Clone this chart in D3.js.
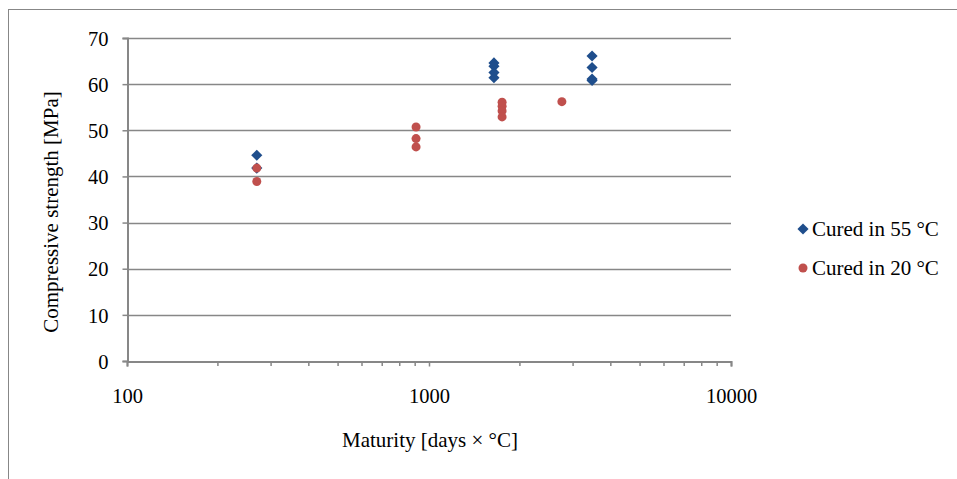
<!DOCTYPE html>
<html>
<head>
<meta charset="utf-8">
<script src="https://cdn.jsdelivr.net/npm/d3@7"></script>
<style>
  body { margin: 0; background: #fff; }
  text { font-family: "Liberation Serif", "Times New Roman", serif; fill: #000; }
</style>
</head>
<body>
<svg id="chart" width="957" height="479"></svg>
<script>
// series
var cured55 = [
    { m: 269, s: 44.6 }, { m: 269, s: 41.8 },
    { m: 1641, s: 64.6 }, { m: 1641, s: 63.9 }, { m: 1641, s: 62.5 }, { m: 1641, s: 61.4 },
    { m: 3467, s: 66.1 }, { m: 3467, s: 63.6 }, { m: 3467, s: 61.1 }, { m: 3467, s: 60.8 }
];
var cured20 = [
    { m: 269, s: 41.8 }, { m: 269, s: 38.9 },
    { m: 906, s: 50.7 }, { m: 906, s: 48.2 }, { m: 906, s: 46.4 },
    { m: 1746, s: 56.1 }, { m: 1746, s: 55.2 }, { m: 1746, s: 54.2 }, { m: 1746, s: 52.9 },
    { m: 2754, s: 56.2 }
];
var yTicks = [0, 10, 20, 30, 40, 50, 60, 70];
var xMajor = [100, 1000, 10000];
var xMinor = [200, 300, 400, 500, 600, 700, 800, 900, 2000, 3000, 4000, 5000, 6000, 7000, 8000, 9000];
var legendItems = ["Cured in 55 °C", "Cured in 20 °C"];

var svg = d3.select("#chart");
var grey = "#878787";
var blue = "#1f4e8c";
var red = "#c0504d";

// outer frame
svg.append("rect")
    .attr("x", 8.5).attr("y", 9.5)
    .attr("width", 960).attr("height", 480)
    .attr("fill", "none").attr("stroke", grey).attr("stroke-width", 1);

var x = d3.scaleLog().domain([100, 10000]).range([127, 731]);
var y = d3.scaleLinear().domain([0, 70]).range([361, 38]);

// gridlines
svg.append("g").selectAll("line")
    .data(yTicks.slice(1))
    .join("line")
    .attr("x1", 127).attr("x2", 731)
    .attr("y1", d => Math.round(y(d)) + 0.5)
    .attr("y2", d => Math.round(y(d)) + 0.5)
    .attr("stroke", grey).attr("stroke-width", 1.5);

// y axis
var yAxis = svg.append("g")
    .attr("transform", "translate(127.5,0)")
    .call(d3.axisLeft(y).tickValues(yTicks).tickSize(5).tickPadding(14).tickFormat(d3.format("d")));
yAxis.select(".domain").attr("stroke", grey).attr("stroke-width", 2);
yAxis.selectAll(".tick line").attr("stroke", grey).attr("stroke-width", 1.5);
yAxis.selectAll(".tick text").style("font-size", "20.5px").attr("dy", "0.35em");

// x axis
var xAxis = svg.append("g")
    .attr("transform", "translate(0,361.5)")
    .call(d3.axisBottom(x).tickValues(xMajor).tickSize(5).tickPadding(22).tickFormat(d3.format("d")));
xAxis.select(".domain").attr("stroke", grey).attr("stroke-width", 2);
xAxis.selectAll(".tick line").attr("stroke", grey).attr("stroke-width", 1.5);
xAxis.selectAll(".tick text").style("font-size", "20.5px");

svg.append("g").selectAll("line")
    .data(xMinor)
    .join("line")
    .attr("x1", d => x(d)).attr("x2", d => x(d))
    .attr("y1", 361).attr("y2", 366)
    .attr("stroke", grey).attr("stroke-width", 1.5);

// markers: a square turned 45 degrees gives the even diamond
var diamond = d3.symbol().type(d3.symbolSquare).size(62);
svg.append("g").selectAll("path")
    .data(cured55)
    .join("path")
    .attr("d", diamond)
    .attr("transform", d => "translate(" + x(d.m) + "," + y(d.s) + ") rotate(45)")
    .attr("fill", blue);

svg.append("g").selectAll("circle")
    .data(cured20)
    .join("circle")
    .attr("cx", d => x(d.m))
    .attr("cy", d => y(d.s))
    .attr("r", 4.5)
    .attr("fill", red);

// axis titles
svg.append("text")
    .attr("transform", "translate(51,212) rotate(-90)")
    .attr("dy", "0.35em")
    .attr("text-anchor", "middle")
    .style("font-size", "21px")
    .text("Compressive strength [MPa]");

svg.append("text")
    .attr("x", 430).attr("y", 447)
    .attr("text-anchor", "middle")
    .style("font-size", "21px")
    .text("Maturity [days × °C]");

// legend
var legend = svg.append("g").attr("transform", "translate(803,229)");
legend.append("path")
    .attr("d", diamond)
    .attr("transform", "rotate(45)")
    .attr("fill", blue);
legend.append("circle")
    .attr("cx", 0).attr("cy", 39).attr("r", 4.5)
    .attr("fill", red);
legend.selectAll("text")
    .data(legendItems)
    .join("text")
    .attr("x", 9)
    .attr("y", (d, i) => i * 39)
    .attr("dy", "0.35em")
    .style("font-size", "21px")
    .text(d => d);
</script>
</body>
</html>
